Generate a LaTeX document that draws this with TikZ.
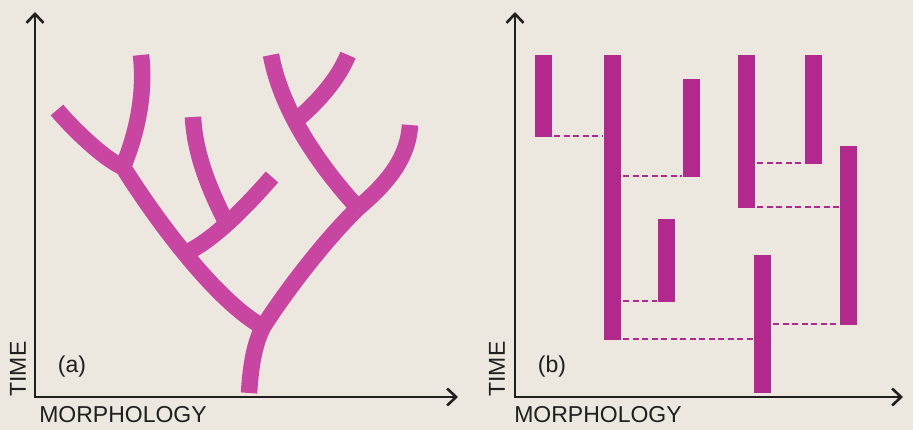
\documentclass[tikz,border=0pt]{standalone}
\usepackage{fontspec}
\setmainfont{Liberation Sans}
\usepackage{tikz}
\usetikzlibrary{arrows.meta}
\definecolor{paper}{RGB}{236,232,223}
\definecolor{treepink}{RGB}{200,70,162}
\definecolor{barpink}{RGB}{178,40,140}

\begin{document}
\begin{tikzpicture}[x=1pt, y=-1pt,
  every node/.style={font=\fontsize{23}{26}\selectfont, inner sep=0pt, text=black!88},
  axis/.style={draw=black!88, line width=2.6pt, line join=miter,
    {Straight Barb[length=9pt, width=17pt]}-{Straight Barb[length=9pt, width=17pt]}},
  branch/.style={draw=treepink, line width=16.5pt, line join=round},
  bar/.style={fill=barpink, minimum width=17pt, anchor=north west},
  link/.style={draw=barpink, line width=2.6pt, dash pattern=on 6pt off 3.5pt,
    shorten <=2pt, shorten >=1pt}]
  \useasboundingbox (0,0) rectangle (913,430);
  \fill[paper] (0,0) rectangle (913,430);
  % (a) branching
  \coordinate (oa) at (35,397);
  \coordinate (ya) at (35,12);
  \coordinate (xa) at (458,397);
  \coordinate (root) at (249,393);
  \coordinate (j1) at (263,327);
  \coordinate (j2) at (123,167);
  \coordinate (j5) at (358,208);
  \coordinate (tipA) at (57,110);
  \coordinate (tipB) at (141,55);
  \coordinate (tipC) at (193,117);
  \coordinate (tipD) at (272,177);
  \coordinate (tipE) at (271,55);
  \coordinate (tipF) at (348,55);
  \coordinate (tipG) at (410,125);
  \draw[branch] (root) .. controls (251,362) and (255,343) .. (j1)
    .. controls (280,300) and (320,245) .. (j5);
  \draw[branch] (j1) .. controls (213,299) and (151,212) .. coordinate[pos=0.5] (j3) (j2);
  \draw[branch] (j2) .. controls (105,160) and (72,128) .. (tipA);
  \draw[branch] (j2) .. controls (134,140) and (146,100) .. (tipB);
  \draw[branch] (j3) .. controls (215,240) and (250,202) .. coordinate[pos=0.45] (j4) (tipD);
  \draw[branch] (j4) .. controls (215,200) and (195,160) .. (tipC);
  \draw[branch] (j5) .. controls (385,185) and (408,160) .. (tipG);
  \draw[branch] (j5) .. controls (325,172) and (282,115) .. coordinate[pos=0.62] (j6) (tipE);
  \draw[branch] (j6) .. controls (315,105) and (338,80) .. (tipF);
  \draw[axis] (ya) -- (oa) -- (xa);
  \node[rotate=90] (timea) at (18,369) {TIME};
  \node (taga) at (72,367) {(a)};
  \node (morpha) at (123,415) {MORPHOLOGY};
  % (b) jumps
  \coordinate (ob) at (515,397);
  \coordinate (yb) at (515,12);
  \coordinate (xb) at (903,397);
  \node[bar, minimum height=82pt] (b1) at (535,55) {};
  \node[bar, minimum height=285pt] (b2) at (604,55) {};
  \node[bar, minimum height=98pt] (b3) at (683,79) {};
  \node[bar, minimum height=83pt] (b4) at (658,219) {};
  \node[bar, minimum height=153pt] (b5) at (738,55) {};
  \node[bar, minimum height=109pt] (b6) at (805,55) {};
  \node[bar, minimum height=179pt] (b7) at (840,146) {};
  \node[bar, minimum height=138pt] (b8) at (754,255) {};
  \draw[link] ([yshift=1.3pt]b1.south east) -- ([yshift=1.3pt]b1.south east -| b2.west);
  \draw[link] ([yshift=1.3pt]b3.south west -| b2.east) -- ([yshift=1.3pt]b3.south west);
  \draw[link] ([yshift=1.3pt]b4.south west -| b2.east) -- ([yshift=1.3pt]b4.south west);
  \draw[link] ([yshift=1.3pt]b2.south east) -- ([yshift=1.3pt]b2.south east -| b8.west);
  \draw[link] ([yshift=1.3pt]b6.south west -| b5.east) -- ([yshift=1.3pt]b6.south west);
  \draw[link] ([yshift=1.3pt]b5.south east) -- ([yshift=1.3pt]b5.south east -| b7.west);
  \draw[link] ([yshift=1.3pt]b7.south west -| b8.east) -- ([yshift=1.3pt]b7.south west);
  \draw[axis] (yb) -- (ob) -- (xb);
  \node[rotate=90] (timeb) at (497,369) {TIME};
  \node (tagb) at (552,367) {(b)};
  \node (morphb) at (598,415) {MORPHOLOGY};
\end{tikzpicture}
\end{document}
